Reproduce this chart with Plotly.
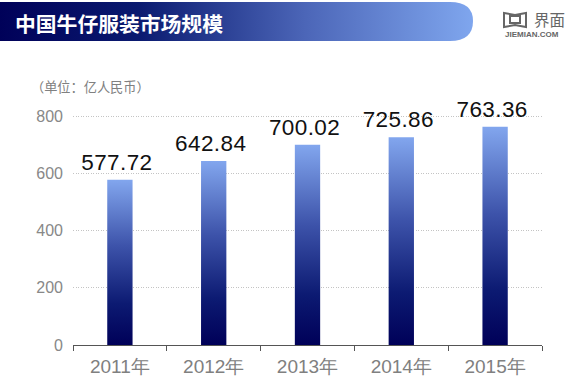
import plotly.graph_objects as go

categories = ["2011年", "2012年", "2013年", "2014年", "2015年"]
values = [577.72, 642.84, 700.02, 725.86, 763.36]
labels = ["577.72", "642.84", "700.02", "725.86", "763.36"]
y_ticks = [0, 200, 400, 600, 800]
title_text = "中国牛仔服装市场规模"
unit_text = "（单位：亿人民币）"

W, H = 571, 386
L, R, T, B = 73, 29, 115, 41
PW, PH = W - L - R, H - T - B
px = lambda x: (x - L) / PW
py = lambda y: 1 - (y - T) / PH

fig = go.Figure(go.Bar(
    x=categories, y=values, text=labels, textposition="outside", cliponaxis=False, constraintext="none",
    textfont=dict(family="Liberation Sans", size=22.5, color="#111111"),
    marker=dict(color="#1a2a80", line_width=0), width=0.27,
))

banner = (f"M {px(-5)} {py(2)} L {px(450)} {py(2)} "
          f"Q {px(473)} {py(2)} {px(473)} {py(21)} "
          f"Q {px(473)} {py(41)} {px(450)} {py(41)} L {px(-5)} {py(41)} Z")
logo = (f"M {px(504)} {py(13)} L {px(515)} {py(15)} L {px(526)} {py(13)} L {px(526)} {py(27)} "
        f"L {px(515)} {py(25)} L {px(504)} {py(27)} Z "
        f"M {px(510)} {py(16)} L {px(510)} {py(23)} L {px(520)} {py(23)} L {px(520)} {py(16)} Z")
shapes = [
    dict(type="path", xref="paper", yref="paper", path=banner, fillcolor="#2a3f9a", line_width=0),
    dict(type="path", xref="paper", yref="paper", path=logo, fillcolor="rgba(0,0,0,0)",
         line=dict(color="#666666", width=2)),
]

annotations = [
    dict(text=title_text, xref="paper", yref="paper", x=px(13), y=py(23), xanchor="left", yanchor="middle",
         showarrow=False, font=dict(family="Noto Sans CJK SC", size=20.8, color="white", weight="bold")),
    dict(text=unit_text, xref="paper", yref="paper", x=px(29), y=py(86), xanchor="left", yanchor="middle",
         showarrow=False, font=dict(family="Noto Sans CJK SC", size=13.2, color="#808080")),
    dict(text="界面", xref="paper", yref="paper", x=px(532), y=py(19), xanchor="left", yanchor="middle",
         showarrow=False, font=dict(family="Noto Sans CJK SC", size=15.5, color="#666666")),
    dict(text="JIEMIAN.COM", xref="paper", yref="paper", x=px(503), y=py(34), xanchor="left", yanchor="middle",
         showarrow=False, font=dict(family="Liberation Sans", size=8, color="#666666", weight="bold")),
]

fig.update_layout(
    width=W, height=H, margin=dict(l=L, r=R, t=T, b=B, autoexpand=False), autosize=False,
    paper_bgcolor="white", plot_bgcolor="white", showlegend=False,
    shapes=shapes, annotations=annotations,
    xaxis=dict(type="category", tickson="boundaries", ticks="outside", ticklen=5, tickwidth=1.2, tickcolor="#555555",
               showline=True, linecolor="#555555", linewidth=1.3, showgrid=False, ticklabelstandoff=4,
               automargin=False,
               tickfont=dict(family="Liberation Sans", size=19, color="#808080")),
    yaxis=dict(range=[0, 804], tickvals=y_ticks, showline=False, zeroline=False, ticks="", ticklen=0,
               gridcolor="#c4c4c4", griddash="1px,1.5px", gridwidth=1, ticklabelstandoff=9,
               automargin=False,
               tickfont=dict(family="Liberation Sans", size=16, color="#888888")),
)

post = """
document.body.style.margin='0';
var gd = document.querySelector('.js-plotly-plot');
var svg = gd.querySelector('svg.main-svg');
var ns = 'http://www.w3.org/2000/svg';
var defs = svg.querySelector('defs') || svg.insertBefore(document.createElementNS(ns,'defs'), svg.firstChild);
function grad(id, x2, y2, stops){
  var g = document.createElementNS(ns,'linearGradient');
  g.setAttribute('id', id); g.setAttribute('x1','0'); g.setAttribute('y1','0');
  g.setAttribute('x2',x2); g.setAttribute('y2',y2);
  stops.forEach(function(s){ var e=document.createElementNS(ns,'stop');
    e.setAttribute('offset',s[0]); e.setAttribute('stop-color',s[1]); g.appendChild(e); });
  defs.appendChild(g);
}
grad('barGrad','0','1',[[0,'#82a6ee'],[0.4,'#3d53aa'],[0.75,'#0c1a72'],[1,'#000058']]);
grad('banGrad','1','0',[[0,'#000058'],[0.3,'#0a1a70'],[0.65,'#4c66b8'],[1,'#7fa6ee']]);
gd.querySelectorAll('.bars .point path').forEach(function(p){ p.style.fill='url(#barGrad)'; });
gd.querySelectorAll('.bars .point text').forEach(function(t){
  t.style.letterSpacing='0.4px';
  t.setAttribute('transform','translate(-3,-2) '+(t.getAttribute('transform')||''));
});
var sp = gd.querySelector('.shapelayer path');
if (sp) sp.style.fill='url(#banGrad)';
"""
fig.write_html("out.html", post_script=post, config=dict(displayModeBar=False))
